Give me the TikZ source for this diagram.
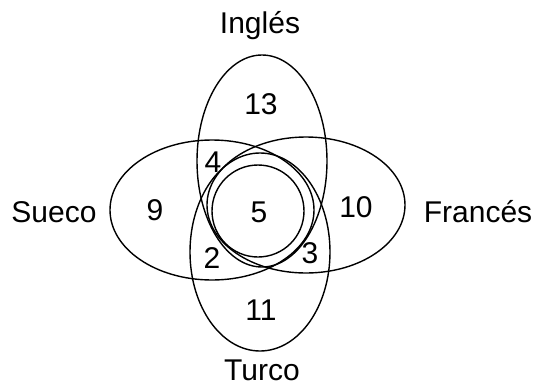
\documentclass[tikz,border=0pt]{standalone}
\usepackage{fontspec}
\setmainfont{Liberation Sans}
\usetikzlibrary{positioning}

\begin{document}
\begin{tikzpicture}[x=1pt, y=-1pt,
    set/.style={line width=1.4pt},
    num/.style={font=\fontsize{30}{36}\selectfont, inner sep=0pt},
    lang/.style={font=\fontsize{30}{36}\selectfont, inner sep=0pt, anchor=base}]
      \useasboundingbox (0,0) rectangle (541,386);
      % the four sets and the centre circle
      \draw[set] (262,161) ellipse [x radius=65, y radius=106];
      \draw[set] (260,252) ellipse [x radius=70, y radius=99];
      \draw[set] (212,210) ellipse [x radius=102, y radius=70];
      \draw[set] (306,205) ellipse [x radius=99, y radius=68];
      \draw[set] (258,211) circle [radius=46];
      % set names
      \node[lang] (ingles) at (260,33) {Inglés};
      \node[lang] (sueco) at (54,222) {Sueco};
      \node[lang] (frances) at (478,222) {Francés};
      \node[lang] (turco) at (262,380) {Turco};
      % counts
      \node[num] (onlyIngles) at (261,104) {13};
      \node[num] (onlySueco) at (155,210) {9};
      \node[num] (onlyFrances) at (356,207) {10};
      \node[num] (onlyTurco) at (261,310) {11};
      \node[num] (inglesSueco) at (213,162) {4};
      \node[num] (suecoTurco) at (212,258) {2};
      \node[num] (turcoFrances) at (310,253) {3};
      \node[num] (centre) at (259,212) {5};
    \end{tikzpicture}
\end{document}
